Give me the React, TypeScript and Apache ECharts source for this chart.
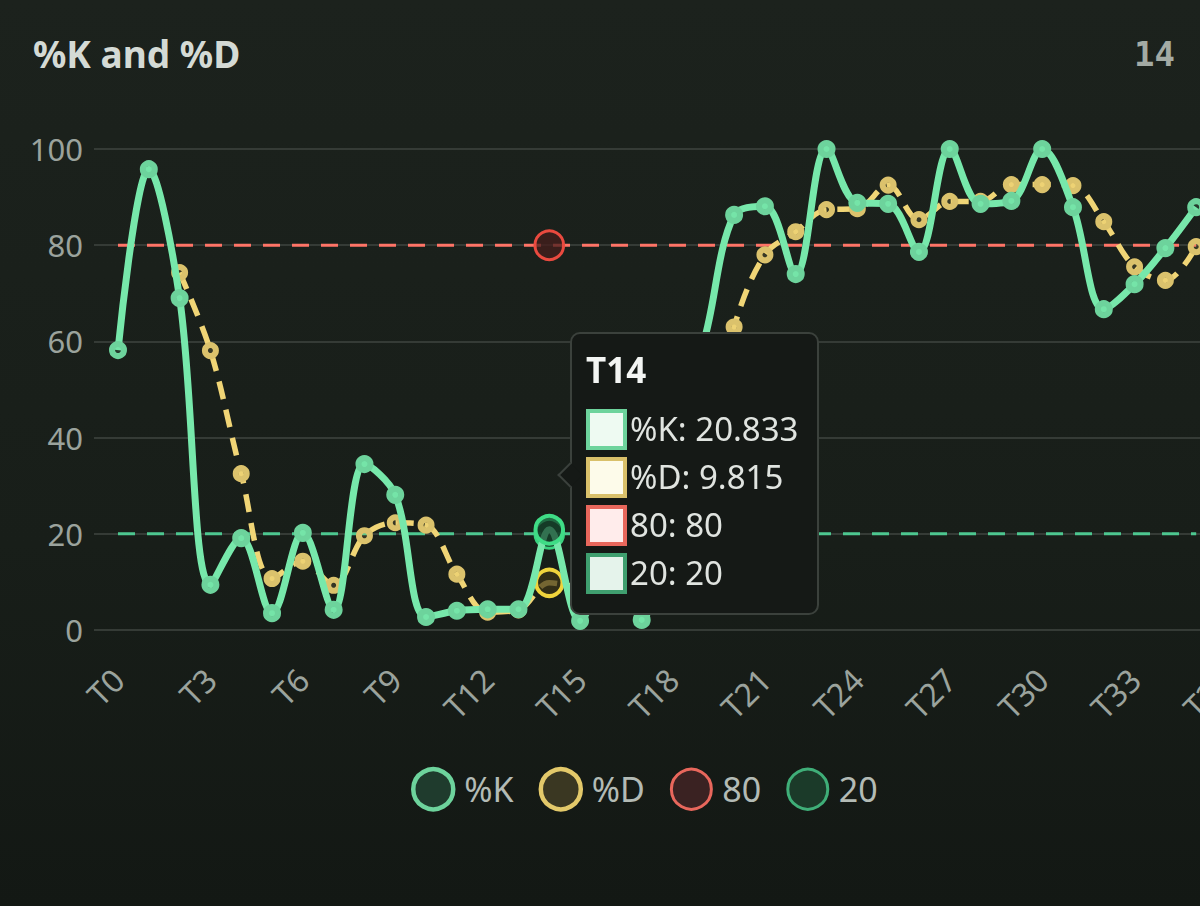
import React, { useEffect, useRef } from "react";
import * as echarts from "echarts";

const categories = [
  "T0", "T1", "T2", "T3", "T4", "T5", "T6", "T7", "T8", "T9",
  "T10", "T11", "T12", "T13", "T14", "T15", "T16", "T17", "T18", "T19",
  "T20", "T21", "T22", "T23", "T24", "T25", "T26", "T27", "T28", "T29",
  "T30", "T31", "T32", "T33", "T34", "T35", "T36",
];

const kValues = [
  58.2, 95.8, 69.0, 9.4, 19.1, 3.5, 20.2, 4.2, 34.5, 28.1,
  2.7, 4.0, 4.3, 4.312, 20.833, 1.9, 15.0, 2.1, 43.1, 59.6,
  86.3, 88.1, 74.0, 100, 88.8, 88.6, 78.6, 100, 88.6, 89.2,
  100, 87.9, 66.7, 71.9, 79.4, 87.9,
];

const dValues = [
  null, null, 74.3, 58.1, 32.5, 10.7, 14.3, 9.3, 19.6, 22.3,
  21.8, 11.6, 3.7, 4.2, 9.815, 9.0, 12.6, 6.3, 20.1, 34.9,
  63.0, 78.0, 82.8, 87.4, 87.6, 92.5, 85.3, 89.1, 89.1, 92.6,
  92.6, 92.4, 84.9, 75.5, 72.7, 79.7,
];

const upperValues = [
  80, 80, 80, 80, 80, 80, 80, 80, 80, 80,
  80, 80, 80, 80, 80, 80, 80, 80, 80, 80,
  80, 80, 80, 80, 80, 80, 80, 80, 80, 80,
  80, 80, 80, 80, 80, 80,
];

const lowerValues = [
  20, 20, 20, 20, 20, 20, 20, 20, 20, 20,
  20, 20, 20, 20, 20, 20, 20, 20, 20, 20,
  20, 20, 20, 20, 20, 20, 20, 20, 20, 20,
  20, 20, 20, 20, 20, 20,
];

const seriesNames = ["%K", "%D", "80", "20"];
const yTicks = { min: 0, max: 100, interval: 20 };
const hoverIndex = 14;

const FONT = "'Noto Sans', 'Open Sans', sans-serif";
const markerBorder = ["#6dd39c", "#d9c06a", "#e8675c", "#3f9f6f"];
const markerFill = ["#eefaf2", "#fdfbea", "#ffeceb", "#e5f3eb"];

function tooltipFormatter(params: any) {
  const list = (Array.isArray(params) ? params : [params])
    .slice()
    .sort((a: any, b: any) => seriesNames.indexOf(a.seriesName) - seriesNames.indexOf(b.seriesName));
  const name = list[0] ? list[0].name : "";
  let html = `<div style="position:relative;font-family:${FONT};">`;
  html += `<div style="position:absolute;left:-25px;top:116px;width:18px;height:18px;box-sizing:border-box;background:#151916;border-left:2px solid #3b413c;border-bottom:2px solid #3b413c;transform:rotate(45deg);"></div>`;
  html += `<div style="font-weight:700;font-size:35px;line-height:40px;color:#f3f5f3;">${name}</div>`;
  html += `<div style="height:15px"></div>`;
  list.forEach((p: any) => {
    const i = seriesNames.indexOf(p.seriesName);
    html += `<div style="display:flex;align-items:center;height:48px;">` +
      `<span style="display:inline-block;box-sizing:border-box;width:41px;height:41px;border:4px solid ${markerBorder[i]};background:${markerFill[i]};margin-right:3px;"></span>` +
      `<span style="font-size:33px;line-height:40px;color:#e0e4e0;">${p.seriesName}: ${p.value}</span></div>`;
  });
  html += `</div>`;
  return html;
}

export default function App() {
  const ref = useRef<HTMLDivElement>(null);

  useEffect(() => {
    if (!ref.current) return;
    const chart = echarts.init(ref.current, undefined, { renderer: "svg" });

    const option: any = {
      animation: false,
      backgroundColor: "transparent",
      title: [
        {
          text: "%K and %D",
          left: 33,
          top: 35,
          padding: 0,
          textStyle: { color: "#d4dad5", fontSize: 37, fontWeight: 700, fontFamily: FONT },
        },
        {
          text: "14",
          right: 25,
          top: 37,
          padding: 0,
          textStyle: { color: "#a3aaa4", fontSize: 34, fontWeight: 700, fontFamily: "'DejaVu Sans Mono', monospace" },
        },
      ],
      legend: {
        top: 762,
        left: 406,
        icon: "circle",
        itemWidth: 40,
        itemHeight: 40,
        itemGap: 25,
        textStyle: { color: "#b3bbb5", fontSize: 34, fontFamily: FONT, padding: [0, 0, 0, 6] },
        data: [
          { name: "%K", itemStyle: { color: "#1f3b2d", borderColor: "#6dd39c", borderWidth: 4.5 } },
          { name: "%D", itemStyle: { color: "#3a3722", borderColor: "#e3c96a", borderWidth: 4.5 } },
          { name: "80", itemStyle: { color: "#3a2222", borderColor: "#e8675c", borderWidth: 3 } },
          { name: "20", itemStyle: { color: "#1b3a29", borderColor: "#3fae78", borderWidth: 3 } },
        ],
      },
      tooltip: {
        trigger: "axis",
        alwaysShowContent: true,
        showDelay: 0,
        transitionDuration: 0,
        backgroundColor: "#151916",
        borderColor: "#3b413c",
        borderWidth: 2,
        padding: [16, 18, 16, 14],
        extraCssText: "box-shadow:none;border-radius:10px;",
        axisPointer: { type: "line", lineStyle: { color: "rgba(0,0,0,0)", width: 0 } },
        position: [570, 332],
        formatter: tooltipFormatter,
      },
      grid: {
        left: 118,
        right: -27,
        top: 149,
        bottom: 276,
        containLabel: false,
        outerBoundsMode: "none",
      },
      xAxis: {
        type: "category",
        data: categories,
        boundaryGap: false,
        axisLine: { show: false },
        axisTick: { show: false },
        splitLine: { show: false },
        axisLabel: {
          rotate: 45,
          interval: 2,
          margin: 44,
          color: "#9ba39d",
          fontSize: 32,
          fontFamily: FONT,
        },
      },
      yAxis: {
        type: "value",
        min: yTicks.min,
        max: yTicks.max,
        interval: yTicks.interval,
        axisLine: { show: false },
        axisTick: { show: true, length: 24, lineStyle: { color: "#353b36", width: 2 } },
        splitLine: { lineStyle: { color: "#353b36", width: 2 } },
        axisLabel: { margin: 35, color: "#9ba39d", fontSize: 31, fontFamily: FONT },
      },
      series: [
        {
          name: "%K",
          type: "line",
          data: kValues,
          z: 5,
          smooth: 0.35,
          symbol: "circle",
          symbolSize: 12,
          lineStyle: { color: "#6dd39c", width: 7 },
          itemStyle: { color: "rgba(109,211,156,0.15)", borderColor: "#6dd39c", borderWidth: 6 },
          emphasis: {
            scale: 2.3,
            itemStyle: { color: "rgba(22,62,42,0.7)", borderColor: "#3fdc86", borderWidth: 4 },
          },
        },
        {
          name: "%D",
          type: "line",
          data: dValues,
          z: 4,
          smooth: 0.35,
          symbol: "circle",
          symbolSize: 11,
          lineStyle: { color: "#dbc26c", width: 5.5, type: [18, 11] },
          itemStyle: { color: "rgba(219,194,108,0.15)", borderColor: "#dbc26c", borderWidth: 6 },
          emphasis: {
            scale: 2.4,
            itemStyle: { color: "rgba(62,54,22,0.7)", borderColor: "#f0d43c", borderWidth: 4 },
          },
        },
        {
          name: "80",
          type: "line",
          data: upperValues,
          z: 3,
          showSymbol: false,
          symbol: "circle",
          symbolSize: 11,
          lineStyle: { color: "#e86a5e", width: 3, type: [17, 12] },
          itemStyle: { color: "rgba(232,106,94,0.15)", borderColor: "#e8675c", borderWidth: 3 },
          emphasis: {
            scale: 2.6,
            itemStyle: { color: "rgba(70,30,28,0.75)", borderColor: "#ea4a3f", borderWidth: 3 },
          },
        },
        {
          name: "20",
          type: "line",
          data: lowerValues,
          z: 3,
          showSymbol: false,
          symbol: "circle",
          symbolSize: 11,
          lineStyle: { color: "#46b583", width: 3, type: [17, 12] },
          itemStyle: { color: "rgba(70,181,131,0.15)", borderColor: "#3fae78", borderWidth: 3 },
          emphasis: {
            scale: 2.6,
            itemStyle: { color: "rgba(20,58,38,0.75)", borderColor: "#3ad27f", borderWidth: 3 },
          },
        },
      ],
    };

    chart.setOption(option);
    chart.dispatchAction({ type: "showTip", seriesIndex: 0, dataIndex: hoverIndex });

    return () => {
      chart.dispose();
    };
  }, []);

  return (
    <div
      ref={ref}
      style={{
        position: "absolute",
        left: 0,
        top: 0,
        width: 1200,
        height: 906,
        overflow: "hidden",
        background: "linear-gradient(180deg, #1c221d 0%, #181e19 60%, #131814 100%)",
      }}
    />
  );
}
